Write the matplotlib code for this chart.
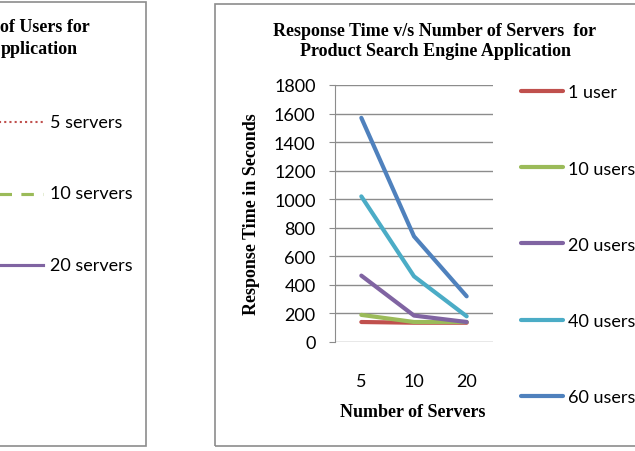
import matplotlib
matplotlib.use("Agg")
import matplotlib.pyplot as plt
from matplotlib.lines import Line2D
from matplotlib.patches import Rectangle

# data
servers = ["5", "10", "20"]
users_1 = [140, 135, 135]
users_10 = [190, 140, 140]
users_20 = [465, 185, 140]
users_40 = [1020, 460, 180]
users_60 = [1570, 740, 320]
series_labels = ["1 user", "10 users", "20 users", "40 users", "60 users"]
colors = ["#C0504D", "#9BBB59", "#8064A2", "#4BACC6", "#4F81BD"]

# legend of the left (cut off) chart
left_labels = ["5 servers", "10 servers", "20 servers"]

W, H = 635, 452
fig = plt.figure(figsize=(W / 100, H / 100), dpi=100)

serif = "Liberation Serif"
sans = "Lato"
fs = 13

def px(x, y):
    # pixel coords (from top-left) -> figure fraction
    return x / W, 1 - y / H

# panel borders
fig.add_artist(Rectangle(px(-10, 447), 156 / W, 444 / H, transform=fig.transFigure,
                         fill=False, edgecolor="#8c8c8c", lw=1.2))
fig.add_artist(Rectangle(px(215, 447), 440 / W, 442 / H, transform=fig.transFigure,
                         fill=False, edgecolor="#8c8c8c", lw=1.2))

# left chart pieces (only the visible part of its title)
fig.text(*px(90, 28), "of Users for", ha="right", va="center",
         fontsize=fs, fontweight="bold", family=serif)
fig.text(*px(1, 49), "pplication", ha="left", va="center",
         fontsize=fs, fontweight="bold", family=serif)
left_styles = [("#C0504D", (0, (1, 1.5)), 1.5),
               ("#9BBB59", (0, (4, 3)), 2.25),
               ("#8064A2", "-", 2.25)]
for i, (lab, (c, ls, lw)) in enumerate(zip(left_labels, left_styles)):
    y = 123 + i * 71.5
    x0, y0 = px(-20, y)
    x1, _ = px(43, y)
    fig.add_artist(Line2D([x0, x1], [y0, y0], transform=fig.transFigure,
                          color=c, linestyle=ls, lw=lw))
    fig.text(*px(50, y), lab, ha="left", va="center", fontsize=fs, family=sans)

# right chart
ax = fig.add_axes([335 / W, 1 - 343 / H, (493 - 335) / W, (343 - 86) / H])
xs = range(len(servers))
all_series = [users_1, users_10, users_20, users_40, users_60]
for vals, lab, c in zip(all_series, series_labels, colors):
    ax.plot(xs, vals, color=c, lw=3, label=lab, solid_capstyle="round")

ax.set_xlim(-0.5, len(servers) - 0.5)
ax.set_ylim(0, 1800)
ax.set_yticks(range(0, 1801, 200))
ax.set_xticks(list(xs))
ax.set_xticklabels(servers)
ax.grid(axis="y", color="#8c8c8c", lw=1)
ax.set_axisbelow(True)
for s in ["top", "right", "bottom"]:
    ax.spines[s].set_visible(False)
ax.spines["left"].set_color("#8c8c8c")
ax.tick_params(axis="y", length=4, color="#8c8c8c", labelsize=fs, pad=10)
ax.tick_params(axis="x", length=0, labelsize=fs, pad=22)
for t in ax.get_xticklabels() + ax.get_yticklabels():
    t.set_family(sans)

ax.set_xlabel("Number of Servers", fontsize=fs, fontweight="bold", family=serif)
ax.set_ylabel("Response Time in Seconds", fontsize=fs, fontweight="bold", family=serif)
ax.xaxis.set_label_coords(0.494, -0.238)
ax.yaxis.set_label_coords(-0.475, 0.5)

fig.text(*px(435, 32), "Response Time v/s Number of Servers  for", ha="center", va="center",
         fontsize=fs, fontweight="bold", family=serif)
fig.text(*px(435, 52), "Product Search Engine Application", ha="center", va="center",
         fontsize=fs, fontweight="bold", family=serif)

leg = ax.legend(loc="upper left", bbox_to_anchor=px(521, 85.5), bbox_transform=fig.transFigure,
                frameon=False, fontsize=fs, handlelength=2.3, handletextpad=0.3,
                labelspacing=3.33, borderaxespad=0, borderpad=0)
for t in leg.get_texts():
    t.set_family(sans)

fig.savefig("out.png", dpi=100)
